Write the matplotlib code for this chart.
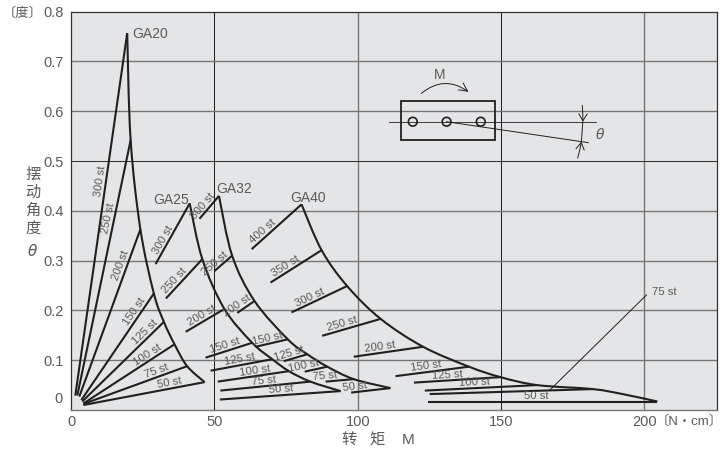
import numpy as np
import matplotlib
matplotlib.use("Agg")
import matplotlib.pyplot as plt
from matplotlib.patches import FancyArrowPatch, PathPatch, Rectangle
from matplotlib.path import Path

plt.rcParams["font.family"] = ["Liberation Sans", "Noto Sans CJK SC", "DejaVu Sans"]

TEXT = "#5a5a5a"
LINE = "#231f20"
BG = "#e4e5e6"

# each stroke: label, base x, base y, top x, top y, position of text along the stroke
ga20 = [
    ("300 st", 1.5, 0.029, 19.6, 0.757, 0.59),
    ("250 st", 2.2, 0.029, 20.8, 0.542, 0.69),
    ("200 st", 2.9, 0.027, 24.2, 0.363, 0.77),
    ("150 st", 3.6, 0.020, 28.9, 0.234, 0.80),
    ("125 st", 3.9, 0.017, 32.4, 0.177, 0.82),
    ("100 st", 4.3, 0.013, 36.1, 0.132, 0.74),
    ("75 st", 4.3, 0.012, 40.5, 0.088, 0.72),
    ("50 st", 4.3, 0.010, 46.6, 0.056, 0.72),
]
ga25 = [
    ("300 st", 29.5, 0.293, 41.4, 0.415, 0.35),
    ("250 st", 33.1, 0.224, 45.8, 0.303, 0.35),
    ("200 st", 40.0, 0.157, 53.5, 0.203, 0.50),
    ("150 st", 46.9, 0.105, 63.2, 0.135, 0.46),
    ("125 st", 48.7, 0.079, 70.2, 0.102, 0.49),
    ("100 st", 51.2, 0.057, 76.0, 0.078, 0.53),
    ("75 st", 52.1, 0.039, 83.5, 0.057, 0.49),
    ("50 st", 51.9, 0.021, 94.0, 0.038, 0.51),
]
ga32 = [
    ("300 st", 44.8, 0.384, 51.6, 0.430, 0.40),
    ("250 st", 50.0, 0.279, 56.2, 0.310, 0.23),
    ("200 st", 58.0, 0.195, 64.0, 0.219, 0.20),
    ("150 st", 64.4, 0.127, 75.6, 0.142, 0.40),
    ("125 st", 74.2, 0.098, 82.4, 0.112, 0.30),
    ("100 st", 81.5, 0.077, 89.4, 0.087, 0.00),
    ("75 st", 88.8, 0.057, 98.6, 0.062, 0.00),
    ("50 st", 97.7, 0.035, 111.4, 0.044, 0.10),
]
ga40 = [
    ("400 st", 63.0, 0.323, 80.4, 0.413, 0.30),
    ("350 st", 69.6, 0.256, 87.4, 0.321, 0.35),
    ("300 st", 76.9, 0.196, 96.3, 0.249, 0.37),
    ("250 st", 87.6, 0.149, 108.0, 0.183, 0.37),
    ("200 st", 98.6, 0.107, 122.8, 0.127, 0.39),
    ("150 st", 113.2, 0.068, 138.8, 0.087, 0.43),
    ("125 st", 119.6, 0.055, 149.8, 0.066, 0.39),
    ("100 st", 123.4, 0.039, 162.6, 0.050, 0.44),
    ("", 125.1, 0.032, 182.0, 0.042, 0.0),
    ("50 st", 124.6, 0.017, 204.5, 0.017, 0.47),
]

# outer curve of each family
env20_x = [19.6, 20.8, 24.2, 28.9, 32.4, 36.1, 40.5, 46.6]
env20_y = [0.757, 0.542, 0.363, 0.234, 0.177, 0.132, 0.088, 0.056]
env25_x = [41.4, 45.8, 53.5, 63.2, 70.2, 76.0, 83.5, 94.0]
env25_y = [0.415, 0.303, 0.203, 0.135, 0.102, 0.078, 0.057, 0.038]
env32_x = [51.6, 56.2, 64.0, 75.6, 82.4, 89.4, 98.6, 111.4]
env32_y = [0.430, 0.310, 0.219, 0.142, 0.112, 0.087, 0.062, 0.044]
env40_x = [80.4, 87.4, 96.3, 108.0, 122.8, 138.8, 149.8, 162.6, 182.0, 192.8, 204.5]
env40_y = [0.413, 0.321, 0.249, 0.183, 0.127, 0.087, 0.066, 0.050, 0.042, 0.0315, 0.017]

family_names = ["GA20", "GA25", "GA32", "GA40"]
family_x = [21.3, 28.8, 50.5, 76.5]
family_y = [0.742, 0.408, 0.430, 0.412]

x_ticks = [0, 50, 100, 150, 200]
y_ticks = [0.1, 0.2, 0.3, 0.4, 0.5, 0.6, 0.7, 0.8]

fig = plt.figure(figsize=(7.24, 4.49), dpi=100)
ax = fig.add_axes([71 / 724, 39 / 449, (717 - 71) / 724, (410 - 11.7) / 449])
ax.set_facecolor(BG)
ax.set_xlim(0, 225.3)
ax.set_ylim(0, 0.8)

# grid is not uniform in the original, 50/150 and 0.5 print thin and dark
for x in x_ticks[1:]:
    dark = x in (50, 150)
    ax.axvline(x, color="#222222" if dark else "#777777", lw=0.75 if dark else 1.0, zorder=1)
for y in y_ticks[:-1]:
    dark = y == 0.5
    ax.axhline(y, color="#333333" if dark else "#777777", lw=0.75 if dark else 1.0, zorder=1)

for name, spine in ax.spines.items():
    spine.set_color("#777777" if name == "bottom" else "#333333")
    spine.set_linewidth(1.0 if name == "bottom" else 0.9)

ax.set_xticks(x_ticks)
ax.set_yticks(y_ticks)
ax.set_yticklabels([f"{v:.1f}" for v in y_ticks])
ax.tick_params(length=0, labelsize=10.5, labelcolor=TEXT, pad=5.5)
ax.tick_params(axis="x", pad=3.5)
ax.annotate("0", (0, 0), xytext=(-6, 8), textcoords="offset points", ha="right", va="center",
            fontsize=10.5, color=TEXT, annotation_clip=False)

fig.canvas.draw()


def curve_through(env_x, env_y):
    # bezier path through the read points, drawn on screen coordinates
    pts = ax.transData.transform(np.column_stack([env_x, env_y]))
    verts = [pts[0]]
    for i in range(len(pts) - 1):
        before = pts[max(i - 1, 0)]
        after = pts[min(i + 2, len(pts) - 1)]
        verts.append(pts[i] + (pts[i + 1] - before) / 6)
        verts.append(pts[i + 1] - (after - pts[i]) / 6)
        verts.append(pts[i + 1])
    codes = [Path.MOVETO] + [Path.CURVE4] * (len(verts) - 1)
    return Path(ax.transData.inverted().transform(np.array(verts)), codes)


def draw_family(strokes, env_x, env_y):
    for label, x0, y0, x1, y1, pos in strokes:
        ax.plot([x0, x1], [y0, y1], color=LINE, lw=1.5, solid_capstyle="butt", zorder=3)
        if not label:
            continue
        p0, p1 = ax.transData.transform([(x0, y0), (x1, y1)])
        dx, dy = p1 - p0
        angle = np.degrees(np.arctan2(dy, dx))
        length = np.hypot(dx, dy)
        mx = x0 + (x1 - x0) * pos
        my = y0 + (y1 - y0) * pos
        ax.annotate(label, (mx, my), xytext=(-dy / length * 0.5, dx / length * 0.5),
                    textcoords="offset points", rotation=angle, rotation_mode="anchor",
                    ha="center", va="bottom", fontsize=8.2, color=TEXT, zorder=4)
    ax.add_patch(PathPatch(curve_through(env_x, env_y), fill=False, ec=LINE, lw=1.5, zorder=3))


draw_family(ga20, env20_x, env20_y)
draw_family(ga25, env25_x, env25_y)
draw_family(ga32, env32_x, env32_y)
draw_family(ga40, env40_x, env40_y)

for name, x, y in zip(family_names, family_x, family_y):
    ax.text(x, y, name, fontsize=10, color=TEXT, va="bottom", zorder=4)

# leader for the 75 st stroke of GA40
ax.plot([167, 200.7], [0.040, 0.231], color=LINE, lw=0.7, zorder=3)
ax.text(202.5, 0.237, "75 st", fontsize=8.2, color=TEXT, va="center")

# inset sketch
ax.add_patch(Rectangle((115.2, 0.542), 32.6, 0.079, fill=False, ec=LINE, lw=1.3, zorder=3))
ax.plot([110.8, 183], [0.579, 0.579], color=LINE, lw=0.6, zorder=3)
ax.plot([131, 180.4], [0.579, 0.537], color=LINE, lw=0.7, zorder=3)
ax.scatter([119.2, 131, 142.9], [0.579, 0.579, 0.579], s=40, facecolor="none", edgecolor=LINE,
           linewidth=1.2, zorder=4)
ax.add_patch(FancyArrowPatch((122.2, 0.636), (138.6, 0.639), connectionstyle="arc3,rad=-0.38",
                             arrowstyle="->,head_length=6,head_width=3", color=LINE, lw=0.7,
                             shrinkA=0, shrinkB=0, zorder=4))
ax.text(128.6, 0.672, "M", fontsize=10, color=TEXT, ha="center", va="center")
ax.add_patch(FancyArrowPatch((178.3, 0.612), (178.5, 0.579), connectionstyle="arc3,rad=-0.03",
                             arrowstyle="->,head_length=5,head_width=3", color=LINE, lw=0.7,
                             shrinkA=0, shrinkB=0, zorder=4))
ax.add_patch(FancyArrowPatch((176.7, 0.506), (178.0, 0.539), connectionstyle="arc3,rad=0.03",
                             arrowstyle="->,head_length=5,head_width=3", color=LINE, lw=0.7,
                             shrinkA=0, shrinkB=0, zorder=4))
ax.plot([178.5, 178.0], [0.579, 0.539], color=LINE, lw=0.7, zorder=4)
ax.text(184.6, 0.553, "θ", fontsize=10, color=TEXT, style="italic", family="DejaVu Sans",
        ha="center", va="center")

# axis captions sit outside the axes
W, H = 724, 449
fig.text(3 / W, 1 - 13 / H, "〔度〕", fontsize=9.5, color=TEXT, va="center")
for ch, py in zip("摆动角度", [175, 193, 211, 229]):
    fig.text(33 / W, 1 - py / H, ch, fontsize=11, color=TEXT, ha="center", va="center")
fig.text(32 / W, 1 - 252 / H, "θ", fontsize=11, color=TEXT, style="italic", family="DejaVu Sans",
         ha="center", va="center")
fig.text(723 / W, 1 - 421 / H, "〔N・cm〕", fontsize=9.5, color=TEXT, ha="right", va="center")
for ch, px in zip(["转", "矩", "M"], [349, 377, 408]):
    fig.text(px / W, 1 - 440 / H, ch, fontsize=11, color=TEXT, ha="center", va="center")

fig.savefig("out.png", dpi=100)
